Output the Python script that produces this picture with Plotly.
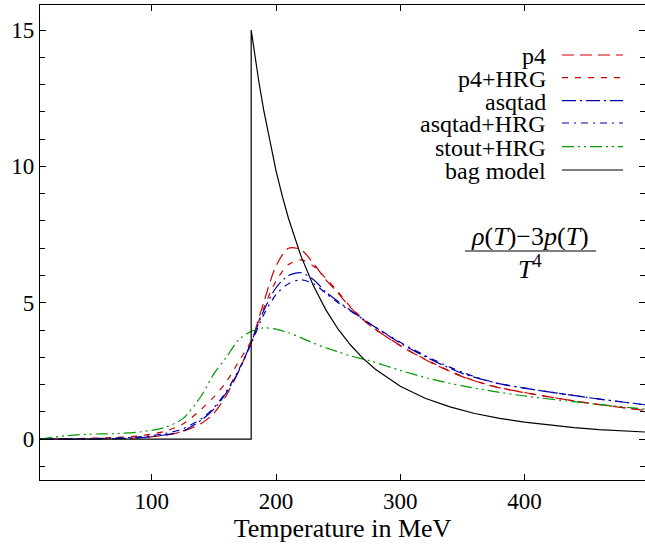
import plotly.graph_objects as go

# ---------------- data ----------------
T_lat = [10, 30, 50, 70, 90, 110, 125, 140, 150, 160, 170, 180, 190, 200, 210,
         220, 230, 240, 250, 260, 275, 300, 325, 350, 375, 400, 450, 497]

p4 = [0.0, 0.0, 0.01, 0.02, 0.05, 0.14, 0.28, 0.58, 0.95, 1.6, 2.5, 3.55, 5.0, 6.35, 7.0,
      6.95, 6.45, 5.85, 5.35, 4.82, 4.19, 3.43, 2.8, 2.29, 1.93, 1.71, 1.33, 1.05]
p4_hrg = [0.0, 0.01, 0.03, 0.06, 0.12, 0.28, 0.55, 1.1, 1.55, 2.1, 2.85, 3.6, 4.8, 5.8, 6.4,
          6.57, 6.35, 5.9, 5.4, 4.85, 4.2, 3.42, 2.82, 2.3, 1.94, 1.7, 1.33, 1.06]
asqtad = [0.0, 0.0, 0.0, 0.02, 0.05, 0.15, 0.3, 0.7, 1.1, 1.7, 2.5, 3.55, 4.7, 5.55, 6.0,
          6.1, 5.85, 5.4, 5.05, 4.72, 4.25, 3.52, 2.91, 2.41, 2.08, 1.87, 1.53, 1.26]
asqtad_hrg = [0.0, 0.01, 0.02, 0.04, 0.08, 0.2, 0.38, 0.75, 1.15, 1.75, 2.55, 3.5, 4.55, 5.3, 5.7,
              5.84, 5.7, 5.35, 5.0, 4.7, 4.25, 3.55, 2.95, 2.45, 2.08, 1.87, 1.53, 1.26]
stout_hrg = [0.0, 0.12, 0.18, 0.2, 0.26, 0.42, 0.75, 1.6, 2.4, 3.0, 3.65, 3.95, 4.08, 4.03, 3.9,
             3.72, 3.52, 3.35, 3.2, 3.05, 2.88, 2.52, 2.2, 1.95, 1.75, 1.58, 1.32, 1.10]

T_bag = [10, 180, 180, 183, 186, 190, 195, 200, 205, 210, 220, 230, 240, 250, 260, 270,
         280, 300, 320, 340, 360, 380, 400, 420, 440, 460, 480, 497]
bag = [0.0, 0.0, 15.0, 14.04, 13.16, 12.08, 10.89, 9.84, 8.92, 8.10, 6.72, 5.63, 4.75, 4.03,
       3.45, 2.96, 2.56, 1.94, 1.50, 1.18, 0.94, 0.76, 0.62, 0.51, 0.42, 0.35, 0.30, 0.26]

series_names = ["p4", "p4+HRG", "asqtad", "asqtad+HRG", "stout+HRG", "bag model"]
x_ticks = [100, 200, 300, 400]
y_ticks = [0, 5, 10, 15]

# ---------------- styles ----------------
RED = "#cc0000"
BLUE = "#0000b0"
GREEN = "#009900"
styles = [
    (RED, "12px,6px"),
    (RED, "6px,7px"),
    (BLUE, "14px,4px,2px,4px"),
    (BLUE, "7px,5px,2px,5px"),
    (GREEN, "12px,4px,2px,4px,2px,4px"),
    ("black", "solid"),
]
FONT = "Liberation Serif"

fig = go.Figure()
for name, y, (c, d) in zip(series_names[:5], [p4, p4_hrg, asqtad, asqtad_hrg, stout_hrg], styles[:5]):
    fig.add_trace(go.Scatter(x=T_lat, y=y, mode="lines", name=name,
                             line=dict(color=c, dash=d, width=1.2, shape="spline", smoothing=0.8)))
fig.add_trace(go.Scatter(x=T_bag, y=bag, mode="lines", name=series_names[5],
                         line=dict(color="black", width=1.2)))

# ---------------- custom legend (text left of line sample) ----------------
PL, PR, PT, PB = 40, 645, 5, 480
def px(xp):
    return (xp - PL) / (PR - PL)
def py(yp):
    return (PB - yp) / (PB - PT)

rows = [55, 77.7, 100.7, 123, 146.7, 170]
annotations = []
shapes = []
for name, r, (c, d) in zip(series_names, rows, styles):
    annotations.append(dict(x=px(547), y=py(r + 1), xref="paper", yref="paper",
                            text=name, showarrow=False, xanchor="right", yanchor="middle",
                            borderpad=0,
                            font=dict(family=FONT, size=24, color="black")))
    shapes.append(dict(type="line", xref="paper", yref="paper",
                       x0=px(562), x1=px(623), y0=py(r), y1=py(r),
                       line=dict(color=c, dash=d, width=1.2)))

# fraction annotation
annotations.append(dict(x=px(530), y=py(236), xref="paper", yref="paper",
                        text="<i>ρ</i>(<i>T</i>)−3<i>p</i>(<i>T</i>)", showarrow=False,
                        xanchor="center", yanchor="middle", borderpad=0,
                        font=dict(family=FONT, size=26, color="black")))
annotations.append(dict(x=px(530), y=py(267), xref="paper", yref="paper",
                        text="<i>T</i><sup>4</sup>", showarrow=False,
                        xanchor="center", yanchor="middle", borderpad=0,
                        font=dict(family=FONT, size=26, color="black")))
shapes.append(dict(type="line", xref="paper", yref="paper",
                   x0=px(465), x1=px(596), y0=py(251), y1=py(251),
                   line=dict(color="black", width=1.2)))

fig.update_layout(
    width=645, height=546,
    margin=dict(l=PL, r=645 - PR, t=PT, b=546 - PB),
    paper_bgcolor="white", plot_bgcolor="white",
    showlegend=False,
    annotations=annotations, shapes=shapes,
    font=dict(family=FONT, color="black"),
)
fig.update_xaxes(range=[10, 497], tickvals=x_ticks, ticks="inside", ticklen=6,
                 tickcolor="black", showline=True, linecolor="black", linewidth=1.4,
                 mirror="allticks", showgrid=False, zeroline=False,
                 tickfont=dict(family=FONT, size=23, color="black"),
                 title=dict(text="Temperature in MeV", standoff=6,
                            font=dict(family=FONT, size=26, color="black")))
fig.update_yaxes(range=[-1.5, 15.92], tickvals=y_ticks, ticks="inside", ticklen=6,
                 tickcolor="black", showline=True, linecolor="black", linewidth=1.4,
                 mirror="allticks", showgrid=False, zeroline=False,
                 minor=dict(dtick=1, ticks="inside", ticklen=5, tickcolor="black", showgrid=False),
                 tickfont=dict(family=FONT, size=23, color="black"))

fig.write_html("out.html")
